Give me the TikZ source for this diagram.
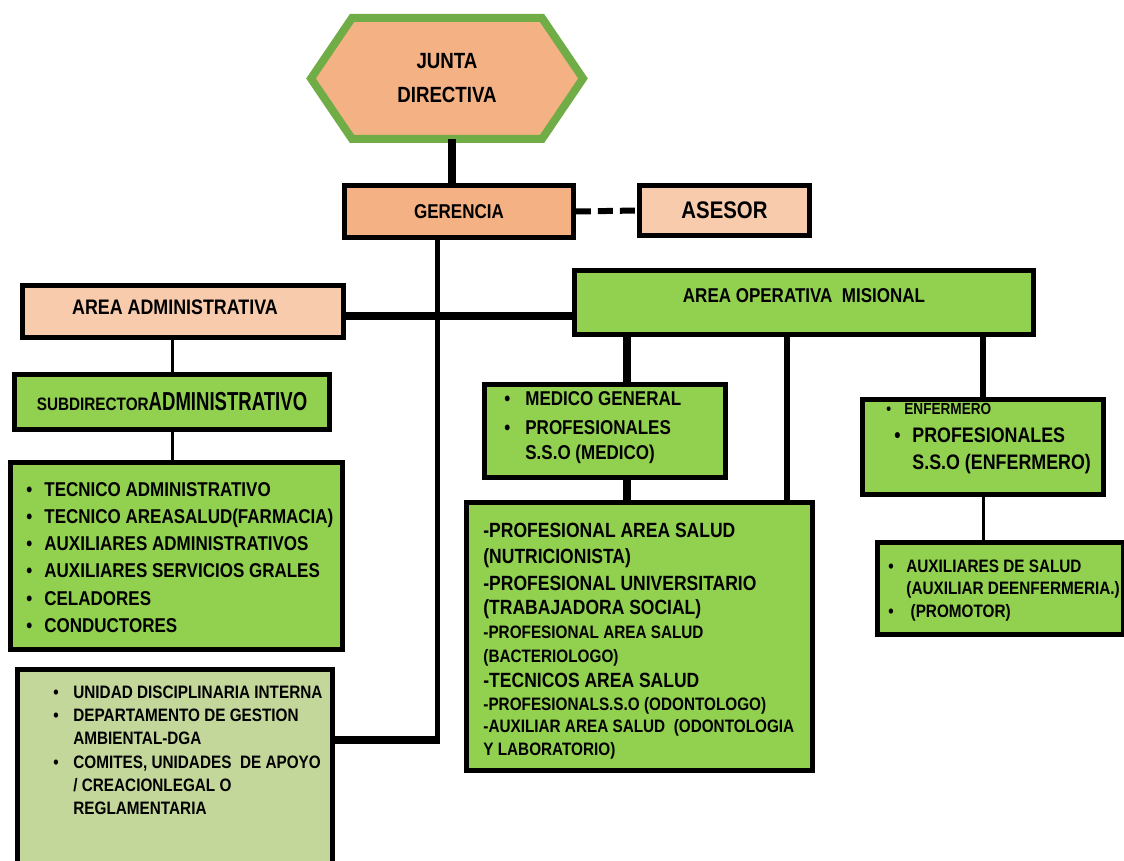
\documentclass[tikz,border=0pt]{standalone}
\usepackage{fontspec}
\newfontfamily\nar{Liberation Sans}[FakeStretch=0.85]
\usepackage{xcolor}
\usetikzlibrary{positioning, calc, backgrounds}

\definecolor{peachdark}{HTML}{F4B183}
\definecolor{peach}{HTML}{F8CBAD}
\definecolor{leaf}{HTML}{92D050}
\definecolor{sage}{HTML}{C4D79B}
\definecolor{hexgreen}{HTML}{70AD47}

\newcommand{\setfs}[2]{\fontsize{#1}{#2}\selectfont}
\newcommand{\bul}[1][8pt]{\makebox[#1][l]{\textbullet}}

\begin{document}
\begin{tikzpicture}[x=0.5pt, y=-0.5pt,
		box/.style={draw=black, line width=2.4pt, inner sep=0pt},
		orgbox/.style={box, fill=peachdark},
		peachbox/.style={box, fill=peach},
		leafbox/.style={box, fill=leaf},
		sagebox/.style={box, fill=sage},
		listtext/.style={anchor=north west, inner sep=0pt, align=left},
		thickline/.style={line width=4pt},
		medline/.style={line width=3pt},
		midline/.style={line width=2.5pt},
		thinline/.style={line width=1.5pt},
		dashline/.style={line width=3pt, dash pattern=on 7.5pt off 3.5pt}]
	\path[use as bounding box] (0,0) rectangle (1124,861);
	\clip (0,0) rectangle (1124,861);

	% top
	\node[inner sep=0pt, outer sep=0pt, minimum width=136pt, minimum height=60.5pt, align=center, font={\nar\bfseries\setfs{11}{17}}] (junta) at (447,78.5) {JUNTA\\DIRECTIVA};
	\begin{pgfonlayer}{background}
		\draw[line width=4pt, draw=hexgreen, fill=peachdark] (junta.west) -- ([xshift=20.5pt]junta.north west) -- ([xshift=-20.5pt]junta.north east) -- (junta.east) -- ([xshift=-20.5pt]junta.south east) -- ([xshift=20.5pt]junta.south west) -- cycle;
	\end{pgfonlayer}
	\node[orgbox, minimum width=114.5pt, minimum height=26pt, font={\nar\bfseries\setfs{10}{12}}] (gerencia) at (459,211.5) {GERENCIA};
	\node[peachbox, minimum width=85pt, minimum height=25pt, font={\nar\bfseries\setfs{12}{14}}] (asesor) at (724.5,210.5) {ASESOR};

	% areas
	\node[peachbox, minimum width=160.5pt, minimum height=26pt, font={\nar\bfseries\setfs{10.5}{12}}] (areaadm) at (183,311.5) {\raisebox{4.5pt}{AREA ADMINISTRATIVA}\hspace*{8pt}};
	\node[leafbox, minimum width=229.5pt, minimum height=32pt, font={\nar\bfseries\setfs{10}{12}}] (areaop) at (804,302.5) {\raisebox{7pt}{AREA OPERATIVA\ \ MISIONAL}};

	% left column
	\node[leafbox, minimum width=157.5pt, minimum height=27.5pt, font=\nar\bfseries] (subdir) at (172,402) {{\setfs{9}{9}SUBDIRECTOR}{\setfs{13}{13}\scalebox{0.84}[1]{ADMINISTRATIVO}}};
	\node[leafbox, minimum width=166pt, minimum height=93.5pt] (tecnico) at (176.5,556) {};
	\node[listtext, font={\nar\bfseries\setfs{10}{13.6}}] (tecnicoT) at (26,482) {\bul[9pt]TECNICO ADMINISTRATIVO\\ \bul[9pt]TECNICO AREASALUD(FARMACIA)\\ \bul[9pt]AUXILIARES ADMINISTRATIVOS\\ \bul[9pt]AUXILIARES SERVICIOS GRALES\\ \bul[9pt]CELADORES\\ \bul[9pt]CONDUCTORES};
	\node[sagebox, minimum width=157.5pt, minimum height=99pt] (unidad) at (175,768.5) {};
	\node[listtext, font={\nar\bfseries\setfs{9}{11.6}}] (unidadT) at (53,685.5) {\bul[10pt]UNIDAD DISCIPLINARIA INTERNA\\ \bul[10pt]DEPARTAMENTO DE GESTION\\ \hspace*{10pt}AMBIENTAL-DGA\\ \bul[10pt]COMITES, UNIDADES\ \ DE APOYO\\ \hspace*{10pt}/ CREACIONLEGAL O\\ \hspace*{10pt}REGLAMENTARIA};

	% middle column
	\node[leafbox, minimum width=120.5pt, minimum height=46.5pt] (medico) at (605,431) {};
	\node[listtext, font={\nar\bfseries\setfs{10}{12.5}}] (medicoT) at (504,391) {\bul[10.5pt]MEDICO GENERAL\\[2pt] \bul[10.5pt]PROFESIONALES\\ \hspace*{10.5pt}S.S.O (MEDICO)};
	\node[leafbox, minimum width=173pt, minimum height=134pt] (salud) at (639.5,636.5) {};
	\node[listtext, font={\nar\bfseries\setfs{10.3}{11.5}}] (saludT) at (483,523) {-PROFESIONAL AREA SALUD\\[1.5pt] (NUTRICIONISTA)\\[2pt] -PROFESIONAL UNIVERSITARIO\\[0.5pt] (TRABAJADORA SOCIAL)\\[0.5pt] {\setfs{9}{11}-PROFESIONAL AREA SALUD}\\[0.5pt] {\setfs{9}{11}(BACTERIOLOGO)}\\[1pt] -TECNICOS AREA SALUD\\ {\setfs{9}{11}-PROFESIONALS.S.O (ODONTOLOGO)}\\[-0.5pt] {\setfs{9}{11}-AUXILIAR AREA SALUD\ \ (ODONTOLOGIA}\\ {\setfs{9}{11}Y LABORATORIO)}};

	% right column
	\node[leafbox, minimum width=120.5pt, minimum height=47.5pt] (enfermero) at (983,447) {};
	\node[listtext, font={\nar\bfseries\setfs{10.5}{13.5}}] (enfermeroT) at (886,403) {{\setfs{8}{13.5}\bul[9pt]ENFERMERO}\\[0.5pt] \hspace*{4pt}\bul[9pt]PROFESIONALES\\ \hspace*{13pt}S.S.O (ENFERMERO)};
	\node[leafbox, minimum width=123pt, minimum height=46pt] (auxiliar) at (1000.5,588.5) {};
	\node[listtext, font={\nar\bfseries\setfs{9}{11}}] (auxiliarT) at (888,559.5) {\bul[9pt]AUXILIARES DE SALUD\\ \hspace*{9pt}(AUXILIAR DEENFERMERIA.)\\[0.5pt] \bul[9pt]\ (PROMOTOR)};

	% connectors
	\draw[thickline] ([xshift=2.5pt]junta.south) -- ([xshift=2.5pt]junta.south |- gerencia.north);
	\draw[dashline] (gerencia.east) -- (asesor.west);
	\coordinate (gbend) at (437,740);
	\draw[midline] (gerencia.south -| gbend) -- ([yshift=-2pt]gbend);
	\draw[thickline] ([xshift=1.25pt]gbend) -- (gbend -| unidad.east);
	\draw[thickline] ([yshift=-2pt]areaadm.east) -- ([yshift=-2pt]areaadm.east -| areaop.west);
	\draw[thinline] (subdir.north |- areaadm.south) -- (subdir.north);
	\draw[thinline] (subdir.south) -- (subdir.south |- tecnico.north);
	\draw[thickline] ([xshift=11pt]medico.north) -- ([xshift=11pt]medico.north |- areaop.south);
	\draw[thickline] ([xshift=11pt]medico.south) -- ([xshift=11pt]medico.south |- salud.north);
	\draw[medline] ([xshift=73.75pt]salud.north) -- ([xshift=73.75pt]salud.north |- areaop.south);
	\draw[medline] (enfermero.north) -- (enfermero.north |- areaop.south);
	\draw[thinline] (enfermero.south) -- (enfermero.south |- auxiliar.north);
\end{tikzpicture}
\end{document}
